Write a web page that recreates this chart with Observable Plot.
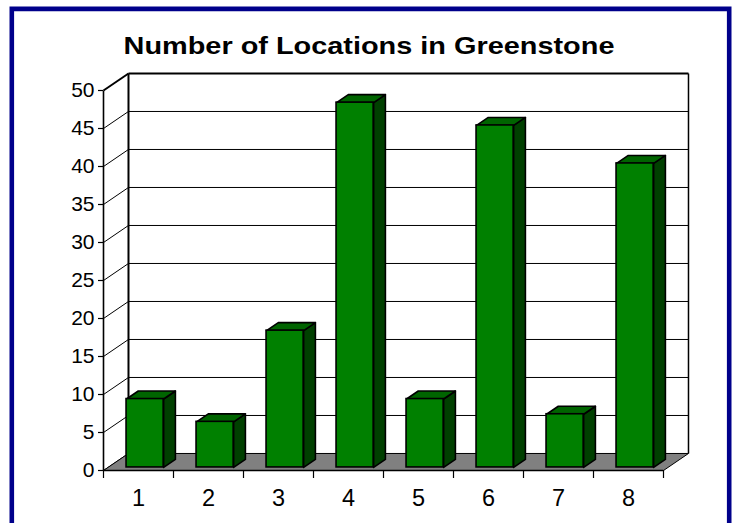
<!DOCTYPE html>
<html>
<head>
<meta charset="utf-8">
<script src="https://cdn.jsdelivr.net/npm/d3@7"></script>
<script src="https://cdn.jsdelivr.net/npm/@observablehq/plot@0.6"></script>
<style>
  html, body { margin: 0; padding: 0; background: #fff; }
  #chart { width: 738px; height: 523px; overflow: hidden; }
</style>
</head>
<body>
<div id="chart"></div>
<script>
// ---- data ----
const categories = ["1", "2", "3", "4", "5", "6", "7", "8"];
const counts = [9, 6, 18, 48, 9, 45, 7, 40];
const yTicks = [0, 5, 10, 15, 20, 25, 30, 35, 40, 45, 50];
const titleText = "Number of Locations in Greenstone";

// ---- 3D geometry (in data units) ----
const n = categories.length;
const yMax = 50;
const DX = 0.357, DY = 2.24;       // full depth offset of the back wall
const F1 = 0.18, F2 = 0.65;        // bar front / back depth fraction
const BL = 0.265, BR = 0.795;      // bar left/right inside its category slot

const boundaries = d3.range(0, n + 1);
const centers = categories.map((c, i) => i + 0.5);

function poly(id, pts) {
  const out = pts.map(([x, y]) => ({id, x, y}));
  out.push({id, x: pts[0][0], y: pts[0][1]});
  return out;
}
const floor = poly("floor", [[0, 0], [n, 0], [n + DX, DY], [DX, DY]]);
const sides = [], tops = [], fronts = [];
counts.forEach((v, i) => {
  const L = i + BL, R = i + BR;
  const x1 = F1 * DX, y1 = F1 * DY, x2 = F2 * DX, y2 = F2 * DY;
  sides.push(...poly("s" + i, [[R + x1, y1], [R + x2, y2], [R + x2, v + y2], [R + x1, v + y1]]));
  tops.push(...poly("t" + i, [[L + x1, v + y1], [R + x1, v + y1], [R + x2, v + y2], [L + x2, v + y2]]));
  fronts.push({x1: L + x1, x2: R + x1, y1: y1, y2: v + y1});
});

const backGrid = yTicks.filter(v => v > 0 && v < yMax).map(v => ({x1: DX, x2: n + DX, y1: v + DY, y2: v + DY}));
const sideGrid = yTicks.filter(v => v < yMax).map(v => ({x1: 0, x2: DX, y1: v, y2: v + DY}));
const edges = [
  {x1: DX, y1: DY, x2: DX, y2: yMax + DY, w: 2},
  {x1: DX, y1: yMax + DY, x2: n + DX, y2: yMax + DY, w: 2},
  {x1: n + DX, y1: DY, x2: n + DX, y2: yMax + DY, w: 1.5},
  {x1: 0, y1: yMax, x2: DX, y2: yMax + DY, w: 2},
  {x1: 0, y1: 0, x2: 0, y2: yMax, w: 1.6},
  {x1: 0, y1: 0, x2: n, y2: 0, w: 1.4}
];

const chart = Plot.plot({
  width: 738,
  height: 523,
  marginLeft: 103,
  marginRight: 75,
  marginTop: 90,
  marginBottom: 53,
  style: {fontFamily: "'Liberation Sans', Arial, sans-serif", color: "black", background: "white", overflow: "visible"},
  x: {domain: [0, n]},
  y: {domain: [0, yMax]},
  marks: [
    Plot.link(backGrid, {x1: "x1", y1: "y1", x2: "x2", y2: "y2", stroke: "black", strokeWidth: 1}),
    Plot.link(sideGrid, {x1: "x1", y1: "y1", x2: "x2", y2: "y2", stroke: "black", strokeWidth: 1}),
    Plot.line(floor, {x: "x", y: "y", z: "id", fill: "#808080", stroke: "black", strokeWidth: 1, curve: "linear"}),
    Plot.link(edges, {x1: "x1", y1: "y1", x2: "x2", y2: "y2", stroke: "black", strokeWidth: d => d.w}),
    Plot.line(sides, {x: "x", y: "y", z: "id", fill: "#004000", stroke: "black", strokeWidth: 1.6, curve: "linear"}),
    Plot.line(tops, {x: "x", y: "y", z: "id", fill: "#006400", stroke: "black", strokeWidth: 1.6, curve: "linear"}),
    Plot.rect(fronts, {x1: "x1", x2: "x2", y1: "y1", y2: "y2", fill: "#008000", stroke: "black", strokeWidth: 1.6}),
    Plot.axisY({ticks: yTicks, tickSize: 5, tickPadding: 4, fontSize: 21, tickFormat: d => String(d), strokeWidth: 1.2}),
    Plot.axisX({ticks: boundaries, tickSize: 8, tickFormat: () => "", strokeWidth: 1.2}),
    Plot.axisX({ticks: centers, tickSize: 0, tickPadding: 19, fontSize: 23.5, tickFormat: d => categories[Math.round(d - 0.5)]})
  ]
});

document.getElementById("chart").appendChild(chart);

const svg = d3.select(chart);
const title = svg.append("text")
  .attr("text-anchor", "middle")
  .attr("font-family", "'Liberation Sans', Arial, sans-serif")
  .attr("font-weight", "bold")
  .attr("font-size", 24)
  .attr("fill", "black")
  .text(titleText);
const tw = title.node().getComputedTextLength() || 408;
title.attr("transform", `translate(369,54) scale(${491 / tw},1)`);

svg.append("path")
  .attr("d", "M11.8,640V8.9H729.2V640")
  .attr("fill", "none")
  .attr("stroke", "#00008b")
  .attr("stroke-width", 4.6);
</script>
</body>
</html>
